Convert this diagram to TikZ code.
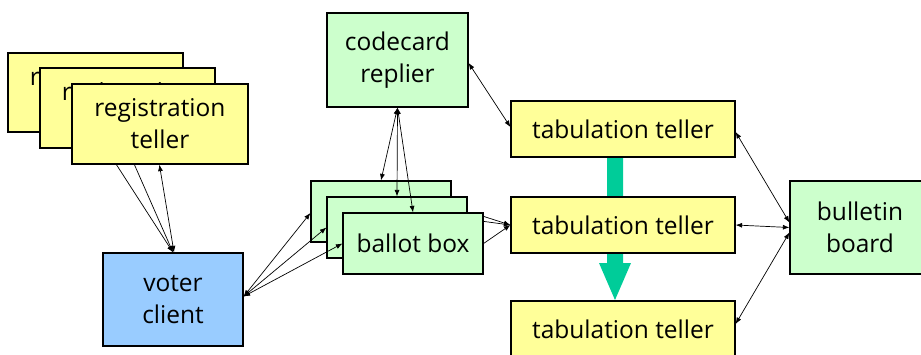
\documentclass[tikz,border=0pt]{standalone}
\usepackage{fontspec}
\setmainfont{Open Sans}
\usetikzlibrary{arrows.meta,calc}
\definecolor{boxyellow}{RGB}{255,255,153}
\definecolor{boxgreen}{RGB}{204,255,204}
\definecolor{boxblue}{RGB}{153,204,255}
\definecolor{flowteal}{RGB}{0,204,153}
\tikzset{
  box/.style={draw=black, line width=1.2pt, inner sep=0pt, align=center,
    font=\fontsize{24.5}{32}\selectfont},
  teller/.style={box, fill=boxyellow},
  service/.style={box, fill=boxgreen},
  client/.style={box, fill=boxblue},
  link/.style={line width=0.7pt, -{Latex[length=6.5pt,width=5pt]}},
  duplex/.style={line width=0.7pt, {Latex[length=6.5pt,width=5pt]}-{Latex[length=6.5pt,width=5pt]}},
}
\begin{document}
\begin{tikzpicture}[x=1pt, y=-1pt]
\useasboundingbox (0,0) rectangle (921,354);
\clip (0,0) rectangle (921,354);

% flow between tabulation tellers (behind the boxes)
\fill[flowteal] (607,150) -- (623,150) -- (623,263) -- (631,263) -- (615,300)
  -- (599,263) -- (607,263) -- cycle;

% registration tellers, stacked
\node[teller, minimum width=175pt, minimum height=79pt] (rt1) at (95.5,92.5) {registration\\teller};
\node[teller, minimum width=175pt, minimum height=80pt] (rt2) at (127.5,108) {registration\\teller};
\node[teller, minimum width=176pt, minimum height=80pt] (rt3) at (160,124) {registration\\teller};

\node[client, minimum width=140pt, minimum height=93pt] (voter) at (173,299.5) {voter\\client};

\node[service, minimum width=141pt, minimum height=94pt] (cc) at (397.5,60) {codecard\\replier};

% ballot boxes, stacked
\node[service, minimum width=140pt, minimum height=61pt] (bb1) at (381,211.5) {ballot box};
\node[service, minimum width=140pt, minimum height=61pt] (bb2) at (397,227.5) {ballot box};
\node[service, minimum width=140pt, minimum height=61pt] (bb3) at (413,243.5) {ballot box};

% tabulation tellers
\node[teller, minimum width=224pt, minimum height=56pt] (tt1) at (623,129) {tabulation teller};
\node[teller, minimum width=224pt, minimum height=56pt] (tt2) at (623,225) {tabulation teller};
\node[teller, minimum width=224pt, minimum height=56pt] (tt3) at (623,329) {tabulation teller};

\node[service, minimum width=140pt, minimum height=93pt] (bull) at (860,227.5) {bulletin\\board};

% registration tellers <-> voter client
\draw[link] ($(rt3.south west)+(45,0)$) -- (voter.north);
\draw[link] ($(rt3.south west)+(63,0)$) -- (voter.north);
\draw[duplex] ($(voter.north)+(1,0)$) -- ($(rt3.south west)+(88,0)$);

% voter client <-> ballot boxes
\draw[duplex] ($(voter.east)+(0,-3)$) -- ($(bb1.west)+(0,1.5)$);
\draw[duplex] ($(voter.east)+(0,-3)$) -- (bb2.west);
\draw[duplex] ($(voter.east)+(0,-3)$) -- (bb3.west);

% codecard replier <-> ballot boxes
\draw[duplex] (cc.south) -- (bb1.north);
\draw[duplex] (cc.south) -- (bb2.north);
\draw[duplex] (cc.south) -- (bb3.north);

% codecard replier <-> first tabulation teller
\draw[duplex] ($(cc.east)+(0,3)$) -- ($(tt1.west)+(0,-2)$);

% ballot boxes -> tabulation teller
\draw[link] ($(bb3.north east)+(0,4)$) -- (tt2.west);
\draw[link] ($(bb3.north east)+(0,9)$) -- (tt2.west);
\draw[link] (bb3.east) -- (tt2.west);

% bulletin board <-> tabulation tellers
\draw[duplex] ($(bull.west)+(0,-5)$) -- ($(tt1.east)+(0,3)$);
\draw[duplex] (bull.west) -- (tt2.east);
\draw[duplex] ($(bull.west)+(0,5)$) -- ($(tt3.east)+(0,-5)$);
\end{tikzpicture}
\end{document}
